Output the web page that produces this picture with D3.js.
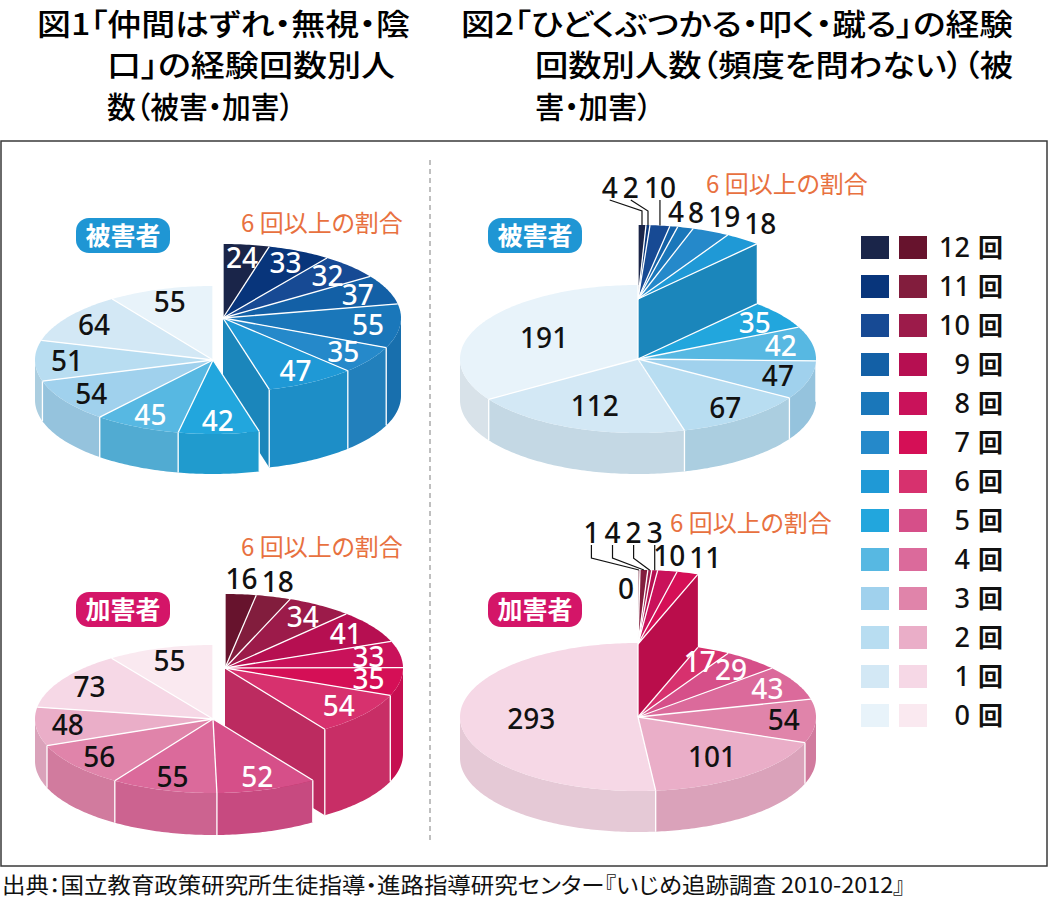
<!DOCTYPE html>
<html lang="ja">
<head>
  <meta charset="UTF-8">
  <title>いじめ経験回数別人数</title>
  <style>
    body { margin: 0; background: #fff; }
    svg { display: block; }
    .jp { font-family: "Noto Sans CJK JP", "Noto Sans", sans-serif; font-feature-settings: "palt"; }
    .num { font-family: "Noto Sans", "Open Sans", sans-serif; font-weight: 500; }
  </style>
</head>
<body>
  <svg width="1049" height="899"></svg>
  <script src="https://cdn.jsdelivr.net/npm/d3@7"></script>
  <script>
    // 経験回数 (12回 -> 0回), every series below follows this order
    var counts = ['12', '11', '10', '9', '8', '7', '6', '5', '4', '3', '2', '1', '0']

    var fig1Victim   = [24, 33, 32, 37, 55, 35, 47, 42, 45, 54, 51, 64, 55]
    var fig1Offender = [16, 18, 34, 41, 33, 35, 54, 52, 55, 56, 48, 73, 55]
    var fig2Victim   = [4, 2, 10, 4, 8, 19, 18, 35, 42, 47, 67, 112, 191]
    var fig2Offender = [1, 4, 2, 3, 10, 11, 17, 29, 43, 54, 101, 293, 0]

    var blues = ['#1a2549', '#08357b', '#174a94', '#1360a6', '#1a77ba', '#2589ca', '#1f99d6',
                 '#22a6dd', '#57b8e2', '#a0d1ed', '#b8ddf1', '#d3e8f5', '#e8f3fa']
    var pinks = ['#67132d', '#821d3d', '#9c1b4a', '#b60f51', '#c9125a', '#d50f56', '#d7316e',
                 '#d64f89', '#db6a9b', '#e084aa', '#eaaec8', '#f6d8e6', '#fae9f0']

    var title1 = ['図1「仲間はずれ・無視・陰', '口」の経験回数別人', '数（被害・加害）']
    var title2 = ['図2「ひどくぶつかる・叩く・蹴る」の経験', '回数別人数（頻度を問わない）（被', '害・加害）']
    var note = '6 回以上の割合'
    var source = '出典：国立教育政策研究所生徒指導・進路指導研究センター『いじめ追跡調査 2010-2012』'

    var svg = d3.select('svg')
    var RX = 178, RY = 74
    var FS = 28
    var DIGIT = FS * 0.575
    var DEG = Math.PI / 180

    var charts = [
      { values: fig1Victim, colors: blues, who: '被害者', badge: '#1f96d4',
        cx: 213, cy: 360, h: 40, raised: 7, dx: 10, lift: 42, H: 78, row: 0, dark: 3, bend: 'top',
        note: [241, 232], badgeAt: [76, 218] },
      { values: fig2Victim, colors: blues, who: '被害者', badge: '#1f96d4',
        cx: 638, cy: 359, h: 41, raised: 7, dx: 0, lift: 60, H: 101, row: 3, dark: 3, bend: 'top',
        note: [706, 193], badgeAt: [488, 218] },
      { values: fig1Offender, colors: pinks, who: '加害者', badge: '#d41568',
        cx: 213, cy: 719, h: 42, raised: 7, dx: 12, lift: 51, H: 86, row: 0, dark: 4, bend: 'top',
        note: [241, 556], badgeAt: [76, 592] },
      { values: fig2Offender, colors: pinks, who: '加害者', badge: '#d41568',
        cx: 638, cy: 717, h: 41, raised: 6, dx: 0, lift: 73, H: 114, row: 4, dark: 3, bend: 'bottom',
        note: [670, 532], badgeAt: [488, 592] }
    ]

    var pie = d3.pie().sort(null).value(function(d) { return d })

    function P(g, a, z) {
      return [g.x + g.rx * Math.sin(a), g.y - g.ry * Math.cos(a) + (z || 0)]
    }
    function arcPts(g, a0, a1, z) {
      var n = Math.max(2, Math.ceil(Math.abs(a1 - a0) / DEG) + 1)
      return d3.range(n).map(function(i) { return P(g, a0 + (a1 - a0) * i / (n - 1), z) })
    }
    function poly(pts) {
      return 'M' + pts.map(function(p) { return p[0].toFixed(2) + ',' + p[1].toFixed(2) }).join('L') + 'Z'
    }

    // one block of the pie: cut faces, outer walls, then the top
    function drawGroup(layer, g, slices, colors) {
      slices = slices.filter(function(s) { return s.endAngle - s.startAngle > 0 })
      if (!slices.length) return
      var a0 = slices[0].startAngle, a1 = slices[slices.length - 1].endAngle
      var faces = []
      if (Math.sin(a1) > 1e-3) faces.push({ a: a1, c: colors[slices[slices.length - 1].index] })
      if (-Math.sin(a0) > 1e-3) faces.push({ a: a0, c: colors[slices[0].index] })
      faces.forEach(function(f) {
        var pts = [[g.x, g.y], P(g, f.a, 0), P(g, f.a, g.h), [g.x, g.y + g.h]]
        layer.append('path').attr('d', poly(pts)).attr('fill', d3.color(f.c).darker(0.38))
      })

      slices.forEach(function(s) {
        var s0 = Math.max(s.startAngle, Math.PI / 2), s1 = Math.min(s.endAngle, 1.5 * Math.PI)
        if (s1 <= s0) return
        var pts = arcPts(g, s0, s1, 0).concat(arcPts(g, s1, s0, g.h))
        layer.append('path').attr('d', poly(pts)).attr('fill', d3.color(colors[s.index]).darker(0.2))
      })

      var bounds = [a0].concat(slices.map(function(s) { return s.endAngle }))
      bounds.forEach(function(b) {
        if (b <= Math.PI / 2 || b >= 1.5 * Math.PI) return
        var p = P(g, b, 0), q = P(g, b, g.h)
        layer.append('line').attr('x1', p[0]).attr('y1', p[1]).attr('x2', q[0]).attr('y2', q[1])
          .attr('stroke', '#fff').attr('stroke-width', 1.3)
      })

      slices.forEach(function(s) {
        var pts = [[g.x, g.y]].concat(arcPts(g, s.startAngle, s.endAngle, 0))
        layer.append('path').attr('d', poly(pts)).attr('fill', colors[s.index])
      })
      bounds.forEach(function(b) {
        var p = P(g, b, 0)
        layer.append('line').attr('x1', g.x).attr('y1', g.y).attr('x2', p[0]).attr('y2', p[1])
          .attr('stroke', '#fff').attr('stroke-width', 1.3)
      })
    }

    function numText(layer, x, y, t, fill) {
      layer.append('text').attr('class', 'num')
        .attr('x', x).attr('y', y + FS * 0.36)
        .attr('text-anchor', 'middle').attr('font-size', FS).attr('fill', fill)
        .text(t)
    }

    // frame and divider
    svg.append('rect').attr('x', 1).attr('y', 141).attr('width', 1046).attr('height', 725)
      .attr('fill', 'none').attr('stroke', '#3a3a3a').attr('stroke-width', 1.5)
    svg.append('line').attr('x1', 430).attr('x2', 430).attr('y1', 160).attr('y2', 840)
      .attr('stroke', '#aaa').attr('stroke-width', 1.5).attr('stroke-dasharray', '5,4')

    charts.forEach(function(c) {
      var arcs = pie(c.values)
      var gL = { x: c.cx, y: c.cy, rx: RX, ry: RY, h: c.h }
      var gR = { x: c.cx + c.dx, y: c.cy - c.lift, rx: RX, ry: RY, h: c.H }
      var layer = svg.append('g')

      drawGroup(layer, gR, arcs.slice(0, c.raised), c.colors)
      drawGroup(layer, gL, arcs.slice(c.raised), c.colors)

      // labels in a row with leader lines, laid out from the right
      var rowY = gR.y - RY * 1.5
      var rowArcs = arcs.slice(0, c.row)
      var rowX = [], x = null
      for (var i = rowArcs.length - 1; i >= 0; i--) {
        var w = String(rowArcs[i].value).length * DIGIT
        if (x === null) x = P(gR, (rowArcs[i].startAngle + rowArcs[i].endAngle) / 2, 0)[0]
        else x -= (w + rowX[i + 1].w) / 2 + 5
        rowX[i] = { x: x, w: w }
      }

      var lastRight = -Infinity
      arcs.forEach(function(s, i) {
        var count = 12 - i
        var g = i < c.raised ? gR : gL
        var mid = (s.startAngle + s.endAngle) / 2
        var span = s.endAngle - s.startAngle
        var w = String(s.value).length * DIGIT
        if (s.value === 0) {
          numText(layer, g.x - 12, gR.y - RY * 0.75, s.value, '#111')
        } else if (i < c.row) {
          var lx = rowX[i].x
          var ap = P(gR, mid, 0)
          var pts = c.bend === 'top'
            ? [[lx, rowY + 12], [ap[0], ap[1] - 14], ap]
            : [[lx, rowY + 12], [lx, ap[1] - 12], ap]
          layer.append('path').attr('d', d3.line()(pts))
            .attr('fill', 'none').attr('stroke', '#111').attr('stroke-width', 1.2)
          numText(layer, lx, rowY, s.value, '#111')
        } else if (i < c.raised && span < 13 * DEG) {
          var ox = g.x + RX * 1.06 * Math.sin(mid)
          if (ox - w / 2 < lastRight + 4) ox = lastRight + 4 + w / 2
          lastRight = ox + w / 2
          numText(layer, ox, g.y - RY * Math.cos(mid) - 15, s.value, '#111')
        } else {
          var r = span > 100 * DEG ? 0.6 : span > 60 * DEG ? 0.68 : 0.82
          numText(layer, g.x + RX * r * Math.sin(mid), g.y - RY * r * Math.cos(mid), s.value,
            count <= c.dark ? '#111' : '#fff')
        }
      })

      // badge and note
      svg.append('rect').attr('x', c.badgeAt[0]).attr('y', c.badgeAt[1])
        .attr('width', 94).attr('height', 35).attr('rx', 13).attr('fill', c.badge)
      svg.append('text').attr('class', 'jp')
        .attr('x', c.badgeAt[0] + 47).attr('y', c.badgeAt[1] + 27)
        .attr('text-anchor', 'middle').attr('font-size', 25).attr('font-weight', 700)
        .attr('fill', '#fff').text(c.who)
      svg.append('text').attr('class', 'jp')
        .attr('x', c.note[0]).attr('y', c.note[1])
        .attr('font-size', 24).attr('fill', '#e8713f').text(note)
    })

    // legend
    var legend = svg.append('g')
    counts.forEach(function(k, i) {
      var y = 236 + i * 39
      legend.append('rect').attr('x', 861).attr('y', y).attr('width', 28).attr('height', 23).attr('fill', blues[i])
      legend.append('rect').attr('x', 899).attr('y', y).attr('width', 28).attr('height', 23).attr('fill', pinks[i])
      legend.append('text').attr('class', 'num')
        .attr('x', 970).attr('y', y + 21).attr('text-anchor', 'end')
        .attr('font-size', 27).attr('fill', '#111').text(k)
      legend.append('text').attr('class', 'jp')
        .attr('x', 978).attr('y', y + 21).attr('font-size', 25).attr('font-weight', 700)
        .attr('fill', '#111').text('回')
    })

    // titles
    var tl1 = [[37, 35, 373], [107, 76, 288], [107, 118, 187]]
    var tl2 = [[461, 35, 552], [535, 76, 478], [535, 118, 117]]
    title1.forEach(function(t, i) {
      svg.append('text').attr('class', 'jp').attr('x', tl1[i][0]).attr('y', tl1[i][1])
        .attr('font-size', 30).attr('font-weight', 500)
        .attr('textLength', tl1[i][2]).attr('lengthAdjust', 'spacingAndGlyphs').text(t)
    })
    title2.forEach(function(t, i) {
      svg.append('text').attr('class', 'jp').attr('x', tl2[i][0]).attr('y', tl2[i][1])
        .attr('font-size', 30).attr('font-weight', 500)
        .attr('textLength', tl2[i][2]).attr('lengthAdjust', 'spacingAndGlyphs').text(t)
    })

    svg.append('text').attr('class', 'jp').attr('x', 2).attr('y', 893)
      .attr('font-size', 22).attr('textLength', 903).attr('lengthAdjust', 'spacingAndGlyphs')
      .attr('fill', '#111').text(source)
  </script>
</body>
</html>
